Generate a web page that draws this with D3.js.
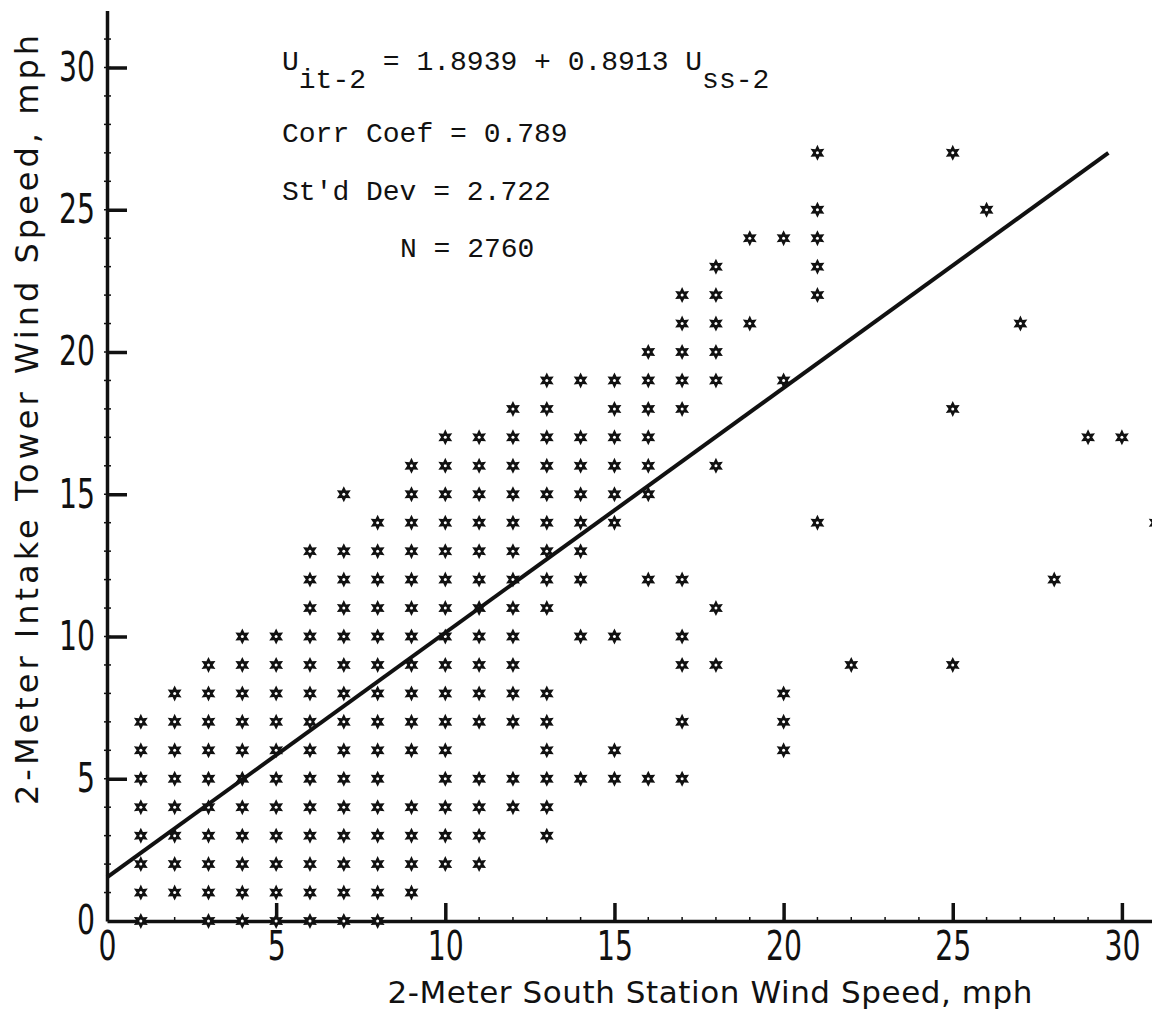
<!DOCTYPE html>
<html>
<head>
<meta charset="utf-8">
<script src="https://cdn.jsdelivr.net/npm/d3@7"></script>
<style>
  body { margin: 0; background: #fff; }
  svg { display: block; }
  .tick text, .title { font-family: "DejaVu Sans", sans-serif; fill: #111; }
  .note { font-family: "Liberation Mono", "DejaVu Sans Mono", monospace; font-size: 28px; fill: #111; white-space: pre; }
</style>
</head>
<body>
<div id="chart"></div>
<script>
// south station speed (x) and the intake tower speeds seen with it (y)
var southSpeed = [1, 2, 3, 4, 5, 6, 7, 8, 9, 10, 11, 12, 13, 14, 15, 16, 17, 18, 19, 20, 21, 22, 25, 26, 27, 28, 29, 30, 31];
var towerSpeeds = [
  [0, 1, 2, 3, 4, 5, 6, 7],
  [1, 2, 3, 4, 5, 6, 7, 8],
  [0, 1, 2, 3, 4, 5, 6, 7, 8, 9],
  [0, 1, 2, 3, 4, 5, 6, 7, 8, 9, 10],
  [0, 1, 2, 3, 4, 5, 6, 7, 8, 9, 10],
  [0, 1, 2, 3, 4, 5, 6, 7, 8, 9, 10, 11, 12, 13],
  [0, 1, 2, 3, 4, 5, 6, 7, 8, 9, 10, 11, 12, 13, 15],
  [0, 1, 2, 3, 4, 5, 6, 7, 8, 9, 10, 11, 12, 13, 14],
  [1, 2, 3, 4, 6, 7, 8, 9, 10, 11, 12, 13, 14, 15, 16],
  [2, 3, 4, 5, 6, 7, 8, 9, 10, 11, 12, 13, 14, 15, 16, 17],
  [2, 3, 4, 5, 7, 8, 9, 10, 11, 12, 13, 14, 15, 16, 17],
  [4, 5, 7, 8, 9, 10, 11, 12, 13, 14, 15, 16, 17, 18],
  [3, 4, 5, 6, 7, 8, 11, 12, 13, 14, 15, 16, 17, 18, 19],
  [5, 10, 12, 13, 14, 15, 16, 17, 19],
  [5, 6, 10, 14, 15, 16, 17, 18, 19],
  [5, 12, 15, 16, 17, 18, 19, 20],
  [5, 7, 9, 10, 12, 18, 19, 20, 21, 22],
  [9, 11, 16, 19, 20, 21, 22, 23],
  [21, 24],
  [6, 7, 8, 19, 24],
  [14, 22, 23, 24, 25, 27],
  [9],
  [9, 18, 27],
  [25],
  [21],
  [12],
  [17],
  [17],
  [14]
];

// regression line as drawn on the figure
var fitX = [0, 29.6];
var fitY = [1.53, 27.0];

var xTicks = [0, 5, 10, 15, 20, 25, 30];
var yTicks = [0, 5, 10, 15, 20, 25, 30];

var w = 1152, h = 1024;
var x0 = 107, y0 = 921;

var x = d3.scaleLinear().domain([0, 31.5]).range([x0, x0 + 31.5 * 33.83]);
var y = d3.scaleLinear().domain([0, 32]).range([y0, y0 - 32 * 28.45]);

var svg = d3.select("#chart").append("svg")
            .attr("width", w)
            .attr("height", h);

// flatten the columns into points
var points = [];
southSpeed.forEach(function(s, i) {
  towerSpeeds[i].forEach(function(t) { points.push({x: s, y: t}); });
});

// minor ticks every 1 mph
svg.append("g").selectAll("line")
   .data(d3.range(1, 32))
   .enter().append("line")
   .attr("x1", x0 - 3).attr("x2", x0 + 4)
   .attr("y1", function(d) { return y(d); })
   .attr("y2", function(d) { return y(d); })
   .attr("stroke", "#111").attr("stroke-width", 1.5);

svg.append("g").selectAll("line")
   .data(d3.range(1, 31))
   .enter().append("line")
   .attr("x1", function(d) { return x(d); })
   .attr("x2", function(d) { return x(d); })
   .attr("y1", y0 + 2).attr("y2", y0 - 4)
   .attr("stroke", "#111").attr("stroke-width", 1.5);

// axes, major ticks point into the plot
var yAxis = svg.append("g")
   .attr("transform", "translate(" + x0 + ",0)")
   .call(d3.axisLeft(y).tickValues(yTicks).tickSize(-20).tickSizeOuter(0).tickPadding(12));

var xAxis = svg.append("g")
   .attr("transform", "translate(0," + y0 + ")")
   .call(d3.axisBottom(x).tickValues(xTicks).tickSize(-18).tickSizeOuter(0).tickPadding(11));

[yAxis, xAxis].forEach(function(a) {
  a.select(".domain").attr("stroke", "#111").attr("stroke-width", 3.5);
  a.selectAll(".tick line").attr("stroke", "#111").attr("stroke-width", 3.5);
  // tall narrow lettering
  a.selectAll(".tick text")
   .attr("font-size", 40)
   .attr("fill", "#111")
   .attr("textLength", function(d) { return String(d).length * 18; })
   .attr("lengthAdjust", "spacingAndGlyphs");
});
yAxis.selectAll(".tick").filter(function(d) { return d === 0; }).select("line").remove();
xAxis.selectAll(".tick").filter(function(d) { return d === 0; }).select("line").remove();

// six pointed star marker
function hexagram(R, r) {
  var p = [];
  for (var k = 0; k < 12; k++) {
    var a = -Math.PI / 2 + k * Math.PI / 6;
    var rr = k % 2 === 0 ? R : r;
    p.push([rr * Math.cos(a), rr * Math.sin(a)]);
  }
  return "M" + p.map(function(q) { return q[0].toFixed(2) + "," + q[1].toFixed(2); }).join("L") + "Z";
}
var starPath = hexagram(8, 4.2);

var stars = svg.append("g").selectAll("g")
   .data(points)
   .enter().append("g")
   .attr("transform", function(d) { return "translate(" + x(d.x) + "," + y(d.y) + ")"; });
stars.append("path").attr("d", starPath).attr("fill", "#111");
stars.append("circle").attr("r", 1.5).attr("fill", "#fff");

// fitted line
svg.append("line")
   .attr("x1", x(fitX[0])).attr("y1", y(fitY[0]))
   .attr("x2", x(fitX[1])).attr("y2", y(fitY[1]))
   .attr("stroke", "#111").attr("stroke-width", 4);

// statistics block
var eq = svg.append("text").attr("class", "note").attr("x", 282).attr("y", 70);
eq.append("tspan").text("U");
eq.append("tspan").attr("dy", 18).text("it-2");
eq.append("tspan").attr("dy", -18).text(" = 1.8939 + 0.8913 U");
eq.append("tspan").attr("dy", 18).text("ss-2");

svg.append("text").attr("class", "note").attr("x", 282).attr("y", 142).text("Corr Coef = 0.789");
svg.append("text").attr("class", "note").attr("x", 282).attr("y", 200).text("St'd Dev = 2.722");
svg.append("text").attr("class", "note").attr("x", 400).attr("y", 257).text("N = 2760");

// axis titles
svg.append("text").attr("class", "title")
   .attr("x", 710).attr("y", 1003)
   .attr("text-anchor", "middle")
   .attr("font-size", 31)
   .attr("textLength", 645).attr("lengthAdjust", "spacing")
   .text("2-Meter South Station Wind Speed, mph");

svg.append("text").attr("class", "title")
   .attr("transform", "translate(38,420) rotate(-90)")
   .attr("text-anchor", "middle")
   .attr("font-size", 32)
   .attr("textLength", 770).attr("lengthAdjust", "spacing")
   .text("2-Meter Intake Tower Wind Speed, mph");
</script>
</body>
</html>
